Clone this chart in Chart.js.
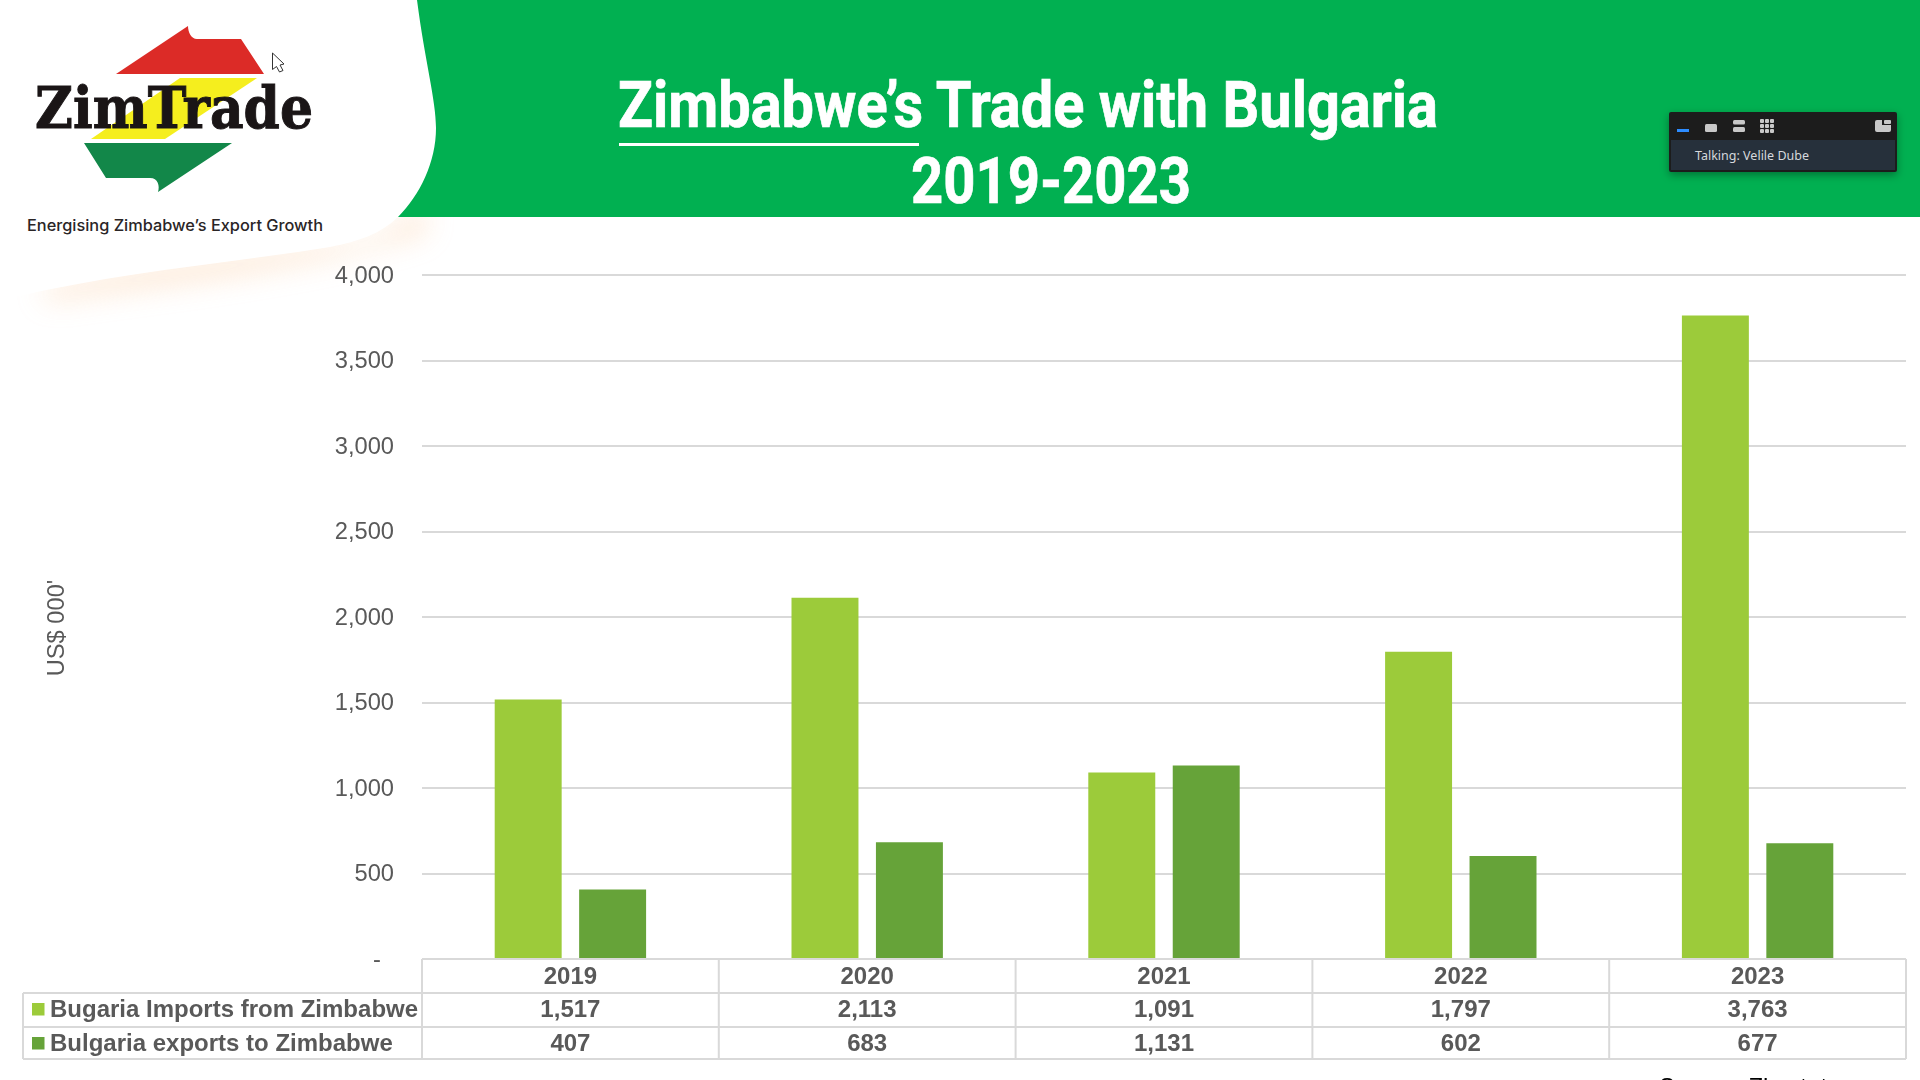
<!DOCTYPE html>
<html>
<head>
<meta charset="utf-8">
<title>Zimbabwe's Trade with Bulgaria</title>
<script src="https://cdn.jsdelivr.net/npm/chart.js@4"></script>
<style>
  html, body { margin: 0; padding: 0; width: 1920px; height: 1080px; overflow: hidden; background: #fff; }
  #header { position: absolute; left: 0; top: 0; }
  #tradeChart { position: absolute; left: 0; top: 0; }
  #source { position: absolute; left: 1659px; top: 1073px; font: 24px "Liberation Sans", sans-serif; color: #000; white-space: nowrap; }
</style>
</head>
<body>
<svg id="header" width="1920" height="1080" viewBox="0 0 1920 1080" xmlns="http://www.w3.org/2000/svg">
  <defs>
    <filter id="soft" x="-20%" y="-100%" width="140%" height="300%"><feGaussianBlur stdDeviation="14"/></filter>
    <filter id="panelShadow" x="-10%" y="-30%" width="120%" height="170%"><feDropShadow dx="0" dy="3" stdDeviation="4" flood-color="#000" flood-opacity="0.35"/></filter>
    <clipPath id="belowBar"><rect x="0" y="217" width="1920" height="300"/></clipPath>
  </defs>

  <!-- green title bar -->
  <rect x="0" y="0" width="1920" height="217" fill="#01b051"/>

  <!-- peach shadow under the white logo card -->
  <g clip-path="url(#belowBar)">
    <path d="M425,205 C400,232 365,245 330,245 C230,258 120,270 40,290 L50,300 C140,285 300,272 425,232 Z" fill="#fbcfa6" opacity="0.55" filter="url(#soft)"/>
  </g>

  <!-- white logo card -->
  <path d="M0,0 L417,0 C425,62 436,100 436,128 C436,162 420,195 398,217 C380,234 360,241 330,247 C230,263 120,272 15,297 L0,300 Z" fill="#fff"/>

  <!-- logo -->
  <path d="M116,74 L188,26 C188,32 191,39 197,39 L241,39 L264,74 Z" fill="#dc2b27"/>
  <path d="M180,78 L257,78 L165,139 L91,139 Z" fill="#f5ee1e"/>
  <path d="M84,143 L232,143 L158,192 C160,186 158,178 150,178 L106,178 Z" fill="#128749"/>
  <text x="35" y="128" font-family="DejaVu Serif" font-weight="700" font-size="58" fill="#1a1516" stroke="#1a1516" stroke-width="1" textLength="278" lengthAdjust="spacingAndGlyphs">ZimTrade</text>
  <text x="27" y="231" font-family="Inter" font-weight="500" font-size="16" fill="#2a2526" textLength="296" lengthAdjust="spacingAndGlyphs">Energising Zimbabwe’s Export Growth</text>

  <!-- mouse pointer -->
  <path d="M272.5,53 L272.5,69.5 L276.5,66.5 L279.5,72 L283,70.5 L280,65 L284,64 Z" fill="#fff" stroke="#333" stroke-width="1"/>

  <!-- title -->
  <text x="618" y="127" font-family="Roboto" font-weight="700" font-size="64" fill="#fff" stroke="#fff" stroke-width="0.7" textLength="820" lengthAdjust="spacingAndGlyphs">Zimbabwe’s Trade with Bulgaria</text>
  <rect x="619" y="143" width="300" height="3" fill="#fff"/>
  <text x="911" y="203" font-family="Roboto" font-weight="700" font-size="64" fill="#fff" stroke="#fff" stroke-width="0.7" textLength="280" lengthAdjust="spacingAndGlyphs">2019-2023</text>

  <!-- meeting panel -->
  <g filter="url(#panelShadow)">
    <rect x="1669" y="112" width="228" height="60" rx="2" fill="#1c1d1f"/>
  </g>
  <rect x="1671" y="140" width="224" height="30" fill="#26303b"/>
  <rect x="1677" y="129" width="12" height="3" fill="#2d8cff"/>
  <rect x="1705" y="124" width="12" height="8" rx="1.5" fill="#c8c8c8"/>
  <rect x="1733" y="120" width="12" height="4.5" rx="1.5" fill="#c8c8c8"/>
  <rect x="1733" y="127" width="12" height="5" rx="1.5" fill="#c8c8c8"/>
  <g fill="#c8c8c8">
    <rect x="1760" y="119" width="4" height="4" rx="1"/><rect x="1765" y="119" width="4" height="4" rx="1"/><rect x="1770" y="119" width="4" height="4" rx="1"/>
    <rect x="1760" y="124" width="4" height="4" rx="1"/><rect x="1765" y="124" width="4" height="4" rx="1"/><rect x="1770" y="124" width="4" height="4" rx="1"/>
    <rect x="1760" y="129" width="4" height="4" rx="1"/><rect x="1765" y="129" width="4" height="4" rx="1"/><rect x="1770" y="129" width="4" height="4" rx="1"/>
  </g>
  <path d="M1875,122 Q1875,120 1877,120 L1882,120 L1882,125 L1891,125 L1891,130 Q1891,132 1889,132 L1877,132 Q1875,132 1875,130 Z" fill="#c8c8c8"/>
  <rect x="1884" y="120" width="7" height="4" rx="1" fill="#c8c8c8"/>
  <text x="1695" y="159.5" font-family="Noto Sans" font-size="13" fill="#d5d8dc" textLength="114" lengthAdjust="spacingAndGlyphs">Talking: Velile Dube</text>
</svg>

<canvas id="tradeChart" width="1920" height="1080"></canvas>
<div id="source">Source: Zimstat</div>

<script>
// Values (US$ 000')
const years = ["2019", "2020", "2021", "2022", "2023"];
const importLabel = "Bugaria Imports from Zimbabwe";
const exportLabel = "Bulgaria exports to Zimbabwe";
const importValues = [1517, 2113, 1091, 1797, 3763];
const exportValues = [407, 683, 1131, 602, 677];
const axisTitle = "US$ 000'";

const importColor = "#9ccb3a";
const exportColor = "#66a339";
const textColor = "#595959";
const lineColor = "#d9d9d9";
const tableFont = 'bold 24px "Liberation Sans"';

// Draws the y axis title and the data table, lined up with the x scale
const dataTablePlugin = {
  id: "dataTable",
  afterDraw(chart) {
    const ctx = chart.ctx;
    const x = chart.scales.x;
    const colWidth = x.width / years.length;
    const tableTop = chart.scales.y.bottom;
    const row1 = tableTop + 34;
    const row2 = tableTop + 68;
    const tableBottom = tableTop + 100;
    const labelLeft = 23;

    ctx.save();
    ctx.strokeStyle = lineColor;
    ctx.lineWidth = 2;
    ctx.beginPath();
    ctx.moveTo(x.left, tableTop);
    ctx.lineTo(x.right, tableTop);
    [row1, row2, tableBottom].forEach((y) => {
      ctx.moveTo(labelLeft, y);
      ctx.lineTo(x.right, y);
    });
    ctx.moveTo(labelLeft, row1);
    ctx.lineTo(labelLeft, tableBottom);
    for (let i = 0; i <= years.length; i++) {
      ctx.moveTo(x.left + i * colWidth, tableTop);
      ctx.lineTo(x.left + i * colWidth, tableBottom);
    }
    ctx.stroke();

    ctx.font = tableFont;
    ctx.fillStyle = textColor;
    ctx.textBaseline = "middle";
    ctx.textAlign = "center";
    years.forEach((year, i) => {
      let cx = x.getPixelForValue(i);
      ctx.fillText(year, cx, tableTop + 18);
      ctx.fillText(importValues[i].toLocaleString("en-US"), cx, row1 + 17);
      ctx.fillText(exportValues[i].toLocaleString("en-US"), cx, row2 + 17);
    });

    ctx.textAlign = "left";
    ctx.fillText(importLabel, 50, row1 + 17);
    ctx.fillText(exportLabel, 50, row2 + 17);
    ctx.fillStyle = importColor;
    ctx.fillRect(32, row1 + 10, 12.5, 12.5);
    ctx.fillStyle = exportColor;
    ctx.fillRect(32, row2 + 10, 12.5, 12.5);

    // y axis title sits a little below the middle of the axis in the original
    ctx.translate(64, 628);
    ctx.rotate(-Math.PI / 2);
    ctx.textAlign = "center";
    ctx.textBaseline = "alphabetic";
    ctx.font = '23.7px "Liberation Sans"';
    ctx.fillStyle = textColor;
    ctx.fillText(axisTitle, 0, 0);
    ctx.restore();
  },
};

new Chart(document.getElementById("tradeChart"), {
  type: "bar",
  data: {
    labels: years,
    datasets: [
      { label: importLabel, data: importValues, backgroundColor: importColor },
      { label: exportLabel, data: exportValues, backgroundColor: exportColor },
    ],
  },
  plugins: [dataTablePlugin],
  options: {
    responsive: false,
    animation: false,
    categoryPercentage: 0.569,
    barPercentage: 0.793,
    layout: { padding: { left: 0, right: 14, top: 275, bottom: 121 } },
    plugins: {
      legend: { display: false },
      title: { display: false },
      tooltip: { enabled: false },
    },
    scales: {
      x: { display: false },
      y: {
        min: 0,
        max: 4000,
        afterFit(scale) {
          scale.width = 422;
        },
        border: { display: false },
        grid: { color: lineColor, lineWidth: 2, drawTicks: false },
        ticks: {
          stepSize: 500,
          padding: 28,
          labelOffset: 1,
          color: textColor,
          font: { family: "Liberation Sans", size: 23.7 },
          callback(value) {
            return value === 0 ? "-  " : value.toLocaleString("en-US");
          },
        },
      },
    },
  },
});
</script>
</body>
</html>
